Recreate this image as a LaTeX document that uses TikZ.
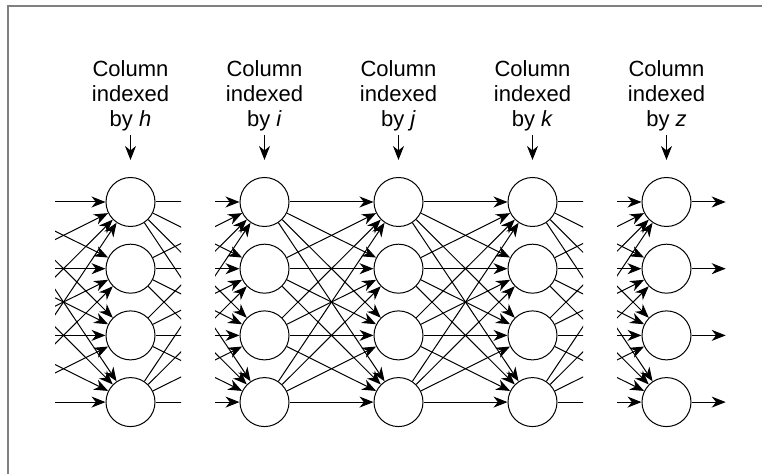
\documentclass[tikz,border=0pt]{standalone}
\usepackage{fontspec}
\setmainfont{Liberation Sans}
\usetikzlibrary{arrows.meta}

\tikzset{
  unit/.style={draw, circle, minimum size=24.5pt, inner sep=0pt},
  link/.style={-{Stealth[length=7pt, width=5.5pt, inset=2.2pt]}},
  caption/.style={align=center, inner sep=0pt, font=\fontsize{11}{12.5}\selectfont},
}

\begin{document}
\begin{tikzpicture}[x=0.5pt, y=-0.5pt, line width=0.5pt]
  \useasboundingbox (0,0) rectangle (762,474);
  \draw[gray, line width=1pt] (8,490) -- (8,6) -- (780,6);

  % columns of units with their captions
  \foreach \col/\x in {h/130.5, i/264.5, j/398.5, k/532.5, z/666.5} {
    \foreach \r in {1,...,4}
      \node[unit] (\col\r) at (\x, 135.3+66.7*\r) {};
    \node[caption, anchor=south] (cap-\col) at (\x, 131.5) {Column\\indexed\\by \textit{\col}};
    \draw[link, shorten <=2pt, shorten >=8.5pt] (cap-\col) -- (\col1);
  }

  % loose ends on both sides
  \foreach \r in {1,...,4} {
    \coordinate (in\r) at (-3.5, 135.3+66.7*\r);
    \coordinate (out\r) at (725.7, 135.3+66.7*\r);
  }

  % full links, broken where columns are left out
  \begin{scope}
    \clip (55,0) rectangle (181,474) (215,0) rectangle (583,474) (617,0) rectangle (762,474);
    \foreach \a in {1,...,4}
      \foreach \b in {1,...,4}
        \draw[link] (in\a) -- (h\b);
    \foreach \p/\q in {h/i, i/j, j/k, k/z}
      \foreach \a in {1,...,4}
        \foreach \b in {1,...,4}
          \draw[link] (\p\a) -- (\q\b);
    \foreach \r in {1,...,4}
      \draw[link] (z\r) -- (out\r);
  \end{scope}
\end{tikzpicture}
\end{document}
